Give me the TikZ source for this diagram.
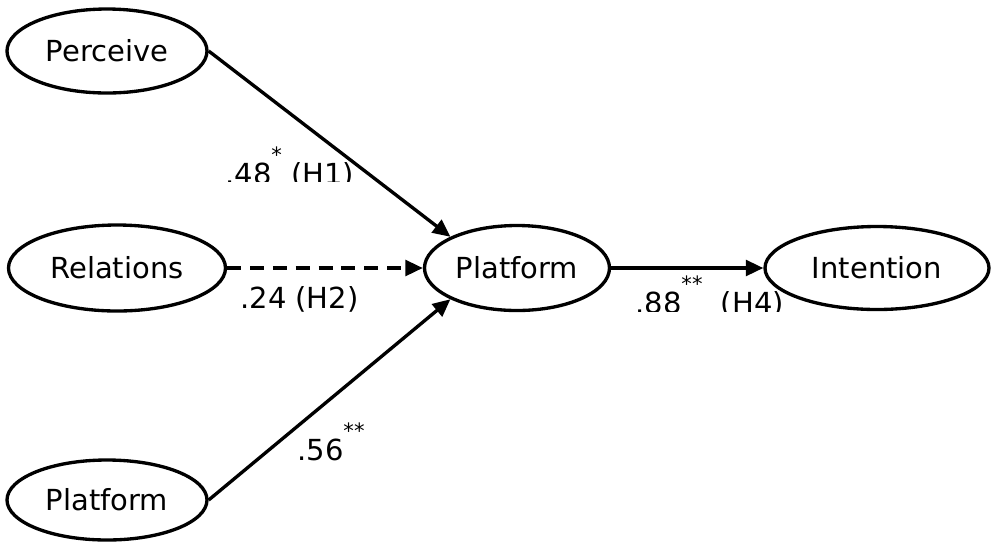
\documentclass[tikz,border=0pt]{standalone}
\usepackage{fontspec}
\setmainfont{DejaVu Sans}
\usetikzlibrary{shapes.geometric,arrows.meta}

\newcommand{\starmark}[1]{\raisebox{12pt}{\fontsize{12}{12}\selectfont #1}}

\begin{document}
\begin{tikzpicture}[
  construct/.style={ellipse,draw,line width=1.9pt,inner sep=0pt,font=\fontsize{16.5}{19}\selectfont},
  link/.style={line width=1.9pt,-{Triangle[length=10pt,width=9pt]}},
  coef/.style={inner sep=0pt,anchor=base west,font=\fontsize{16.5}{19}\selectfont}
]
\useasboundingbox (0,0) rectangle (19.88,-10.84);

\node[construct,minimum width=4.0cm,minimum height=1.68cm] (perc) at (2.14,-1.02) {Perceive};
\node[construct,minimum width=4.34cm,minimum height=1.72cm] (rel) at (2.34,-5.36) {Relations};
\node[construct,minimum width=4.0cm,minimum height=1.6cm] (platin) at (2.14,-10.0) {Platform};
\node[construct,minimum width=3.7cm,minimum height=1.7cm] (plat) at (10.34,-5.36) {Platform};
\node[construct,minimum width=4.48cm,minimum height=1.66cm] (inten) at (17.54,-5.36) {Intention};

\draw[link] (perc.east) -- (plat.north west);
\draw[link,dash pattern=on 8pt off 5pt] (rel.east) -- (plat.west);
\draw[link] (platin.east) -- (plat.south west);
\draw[link] (plat.east) -- (inten.west);

% coefficients (H1 and H4 boxes cut off below)
\begin{scope}
\clip (4.3,-2.6) rectangle (7.6,-3.62);
\node[coef] (h1) at (4.5,-3.68) {.48\starmark{*} (H1)};
\end{scope}
\node[coef] (h2) at (4.8,-6.16) {.24 (H2)};
\node[coef] (h3) at (5.94,-9.2) {.56\starmark{**}};
\begin{scope}
\clip (12.5,-5.4) rectangle (15.8,-6.22);
\node[coef] (h4) at (12.7,-6.26) {.88\starmark{**}\ \ (H4)};
\end{scope}
\end{tikzpicture}
\end{document}
